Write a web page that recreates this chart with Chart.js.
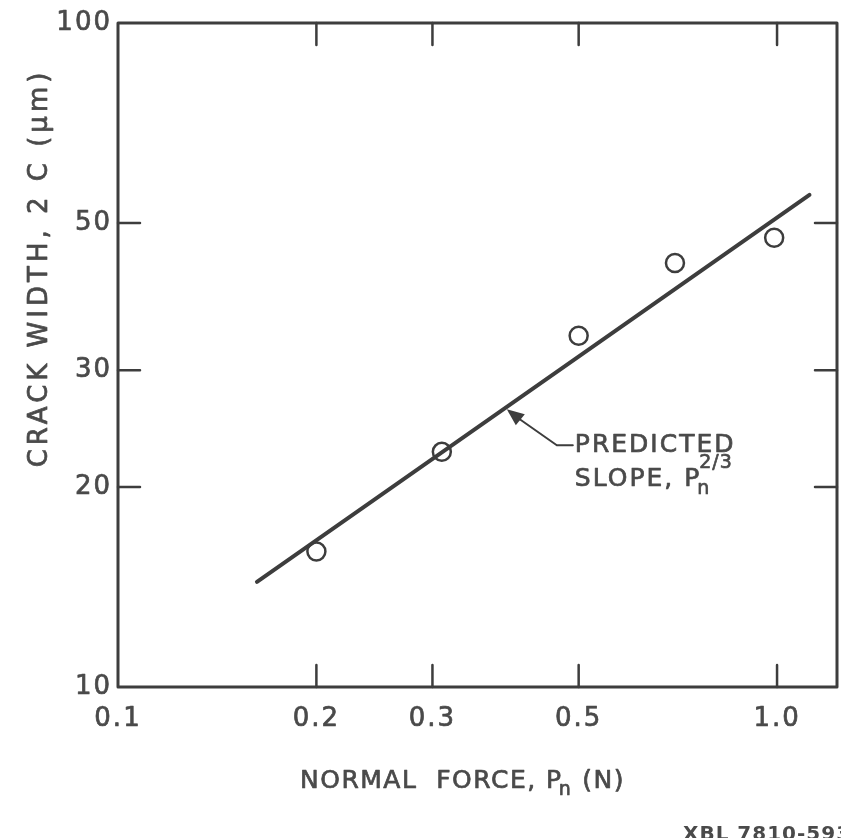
<!DOCTYPE html>
<html>
<head>
<meta charset="utf-8">
<script src="https://cdn.jsdelivr.net/npm/chart.js@4.4.1/dist/chart.umd.min.js"></script>
<style>
  html, body { margin: 0; padding: 0; background: #fff; }
  #wrap { width: 841px; height: 838px; }
</style>
</head>
<body>
<div id="wrap"><canvas id="crackChart" width="841" height="838"></canvas></div>
<script>
// measured points: normal force (N) vs crack width 2c (um)
const forceN = [0.2, 0.31, 0.5, 0.7, 0.99];
const crackWidth = [16.0, 22.6, 33.8, 43.5, 47.5];

// predicted slope line, P^(2/3), end points
const fitForce = [0.1625, 1.12];
const fitWidth = [14.4, 55.1];

const xTicks = [0.1, 0.2, 0.3, 0.5, 1.0];
const xTickLabels = ["0.1", "0.2", "0.3", "0.5", "1.0"];
const yTicks = [10, 20, 30, 50, 100];
const yTickLabels = ["10", "20", "30", "50", "100"];

const ink = "#3d3d3d";
const font = "'DejaVu Sans', sans-serif";

// text with a thin outline so it reads heavier, like the lettering
function txt(ctx, s, x, y) {
  ctx.fillText(s, x, y);
  ctx.strokeText(s, x, y);
}

// frame, inward ticks, labels and the annotation
const decorPlugin = {
  id: "decor",
  afterDraw(chart) {
    const { ctx, chartArea: a, scales } = chart;
    const xs = scales.x, ys = scales.y;
    ctx.save();
    ctx.strokeStyle = ink;
    ctx.lineCap = "round";
    ctx.lineJoin = "round";
    ctx.lineWidth = 3;
    ctx.strokeRect(a.left, a.top, a.right - a.left, a.bottom - a.top);

    const tl = 22;
    ctx.lineWidth = 2.5;
    xTicks.forEach((v) => {
      if (v === 0.1) return;
      const px = xs.getPixelForValue(v);
      ctx.beginPath();
      ctx.moveTo(px, a.bottom); ctx.lineTo(px, a.bottom - tl);
      ctx.moveTo(px, a.top); ctx.lineTo(px, a.top + tl);
      ctx.stroke();
    });
    yTicks.forEach((v) => {
      if (v === 10 || v === 100) return;
      const py = ys.getPixelForValue(v);
      ctx.beginPath();
      ctx.moveTo(a.left, py); ctx.lineTo(a.left + tl, py);
      ctx.moveTo(a.right, py); ctx.lineTo(a.right - tl, py);
      ctx.stroke();
    });

    ctx.fillStyle = "#4a4a4a";
    ctx.strokeStyle = "#4a4a4a";
    ctx.lineWidth = 0.7;
    ctx.font = "26px " + font;
    ctx.letterSpacing = "2px";
    ctx.textBaseline = "middle";
    ctx.textAlign = "center";
    xTicks.forEach((v, i) => {
      txt(ctx, xTickLabels[i], xs.getPixelForValue(v), a.bottom + 32);
    });
    ctx.textAlign = "right";
    yTicks.forEach((v, i) => {
      txt(ctx, yTickLabels[i], a.left - 6, ys.getPixelForValue(v));
    });

    // x axis title with subscript
    ctx.textAlign = "left";
    ctx.font = "25px " + font;
    ctx.letterSpacing = "1.5px";
    let x = 300, y = 781;
    const partA = "NORMAL  FORCE, P";
    txt(ctx, partA, x, y);
    x += ctx.measureText(partA).width;
    ctx.font = "19px " + font;
    txt(ctx, "n", x - 4, y + 9);
    x += ctx.measureText("n").width + 6;
    ctx.font = "25px " + font;
    txt(ctx, "(N)", x, y);

    // y axis title
    ctx.save();
    ctx.translate(40, 268);
    ctx.rotate(-Math.PI / 2);
    ctx.textAlign = "center";
    ctx.font = "26px " + font;
    ctx.letterSpacing = "4px";
    txt(ctx, "CRACK WIDTH, 2 C (\u03bcm)", 0, 0);
    ctx.restore();

    // annotation
    const tipX = xs.getPixelForValue(0.389), tipY = ys.getPixelForValue(26.2);
    ctx.strokeStyle = ink;
    ctx.lineWidth = 2;
    ctx.beginPath();
    ctx.moveTo(tipX + 3, tipY + 3);
    ctx.lineTo(tipX + 50, tipY + 36);
    ctx.lineTo(tipX + 66, tipY + 36);
    ctx.stroke();
    ctx.fillStyle = ink;
    ctx.beginPath();
    ctx.moveTo(tipX, tipY);
    ctx.lineTo(tipX + 18, tipY + 5);
    ctx.lineTo(tipX + 9, tipY + 16);
    ctx.closePath();
    ctx.fill();

    ctx.fillStyle = "#4a4a4a";
    ctx.strokeStyle = "#4a4a4a";
    ctx.lineWidth = 0.7;
    ctx.font = "25px " + font;
    ctx.letterSpacing = "2px";
    ctx.textAlign = "left";
    const lx = tipX + 68;
    txt(ctx, "PREDICTED", lx, tipY + 36);
    const s = "SLOPE, P";
    txt(ctx, s, lx, tipY + 70);
    const sx = lx + ctx.measureText(s).width;
    ctx.font = "19px " + font;
    ctx.letterSpacing = "1px";
    txt(ctx, "n", sx - 4, tipY + 80);
    txt(ctx, "2/3", sx - 2, tipY + 54);

    // figure id
    ctx.font = "bold 20px " + font;
    ctx.letterSpacing = "1px";
    ctx.fillText("XBL 7810-5935", 683, 835);
    ctx.restore();
  }
};

new Chart(document.getElementById("crackChart").getContext("2d"), {
  type: "scatter",
  data: {
    datasets: [
      {
        label: "measured",
        data: forceN.map((f, i) => ({ x: f, y: crackWidth[i] })),
        pointStyle: "circle",
        pointRadius: 9,
        pointBorderWidth: 2.5,
        borderColor: ink,
        backgroundColor: "rgba(0,0,0,0)",
        showLine: false,
      },
      {
        label: "predicted slope",
        data: fitForce.map((f, i) => ({ x: f, y: fitWidth[i] })),
        showLine: true,
        borderColor: ink,
        borderWidth: 4,
        borderCapStyle: "round",
        pointRadius: 0,
      },
    ],
  },
  options: {
    responsive: false,
    animation: false,
    layout: { autoPadding: false, padding: { left: 118, right: 4, top: 23, bottom: 151 } },
    plugins: {
      legend: { display: false },
      tooltip: { enabled: false },
    },
    scales: {
      x: {
        type: "logarithmic",
        display: false,
        min: 0.1,
        max: 1.233,
      },
      y: {
        type: "logarithmic",
        display: false,
        min: 10,
        max: 100,
      },
    },
  },
  plugins: [decorPlugin],
});
</script>
</body>
</html>
